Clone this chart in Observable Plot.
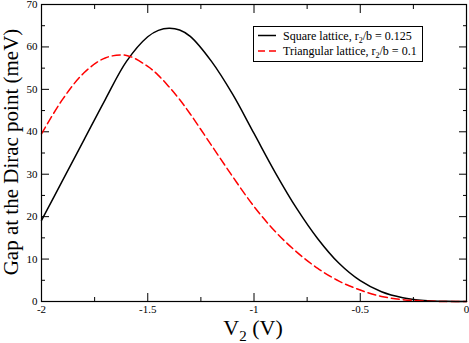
<!DOCTYPE html>
<html><head><meta charset="utf-8">
<script src="https://cdn.jsdelivr.net/npm/d3@7"></script>
<script src="https://cdn.jsdelivr.net/npm/@observablehq/plot@0.6"></script>
<style>
body{margin:0;background:#fff}
#chart{position:relative;width:469px;height:343px}
svg{display:block}
</style>
</head><body><div id="chart"></div>
<script>
// ---- data ----
const voltage = [-2.0,-1.9,-1.8,-1.7,-1.6,-1.5,-1.45,-1.4,-1.35,-1.3,-1.2,-1.1,-1.0,-0.9,-0.8,-0.7,-0.6,-0.5,-0.4,-0.3,-0.2,-0.1,0.0];
const squareGap = [19.1,28.6,38.1,47.6,56.6,62.4,63.9,64.4,64.0,62.5,56.6,48.8,39.6,30.4,22.0,14.8,9.0,4.9,2.3,0.9,0.25,0.03,0.0];
const triangularGap = [39.5,47.7,53.9,57.4,58.0,55.4,53.3,50.6,47.6,44.2,36.8,29.4,22.4,16.5,11.7,7.8,4.8,2.7,1.2,0.45,0.1,0.01,0.0];

const seriesNames = ["Square lattice", "Triangular lattice"];
const seriesRatios = ["0.125", "0.1"];
const seriesColors = ["#000000", "#ff0000"];

const xMajorTicks = [-2, -1.5, -1, -0.5, 0];
const xMinorTicks = [-1.75, -1.25, -0.75, -0.25];
const yMajorTicks = [0, 10, 20, 30, 40, 50, 60, 70];
const yMinorTicks = [5, 15, 25, 35, 45, 55, 65];

const xTitle = ["V", "2", " (V)"];
const yTitle = "Gap at the Dirac point (meV)";

// ---- build table ----
const squareRows = voltage.map((v, i) => ({v, gap: squareGap[i]}));
const triRows = voltage.map((v, i) => ({v, gap: triangularGap[i]}));

const FONT = "Liberation Serif, Times New Roman, serif";
const fmt = d => String(d);
const blank = () => "";

const plot = Plot.plot({
  width: 469,
  height: 343,
  marginLeft: 41,
  marginRight: 3,
  marginTop: 4,
  marginBottom: 42,
  style: {fontFamily: FONT, fontSize: "11px", color: "#000", background: "#fff"},
  x: {domain: [-2, 0]},
  y: {domain: [0, 70]},
  marks: [
    // tick labels
    Plot.axisX({ticks: xMajorTicks, tickSize: 0, tickPadding: 4, tickFormat: fmt, label: null, fontSize: 11}),
    Plot.axisY({ticks: yMajorTicks, tickSize: 0, tickPadding: 4, tickFormat: fmt, label: null, fontSize: 11}),
    // inward ticks on all four sides
    Plot.axisX({ticks: xMajorTicks, tickSize: -8, tickFormat: blank, label: null}),
    Plot.axisX({ticks: xMinorTicks, tickSize: -4, tickFormat: blank, label: null}),
    Plot.axisX({anchor: "top", ticks: xMajorTicks, tickSize: -8, tickFormat: blank, label: null}),
    Plot.axisX({anchor: "top", ticks: xMinorTicks, tickSize: -4, tickFormat: blank, label: null}),
    Plot.axisY({ticks: yMajorTicks, tickSize: -8, tickFormat: blank, label: null}),
    Plot.axisY({ticks: yMinorTicks, tickSize: -4, tickFormat: blank, label: null}),
    Plot.axisY({anchor: "right", ticks: yMajorTicks, tickSize: -8, tickFormat: blank, label: null}),
    Plot.axisY({anchor: "right", ticks: yMinorTicks, tickSize: -4, tickFormat: blank, label: null}),
    Plot.line(squareRows, {x: "v", y: "gap", stroke: seriesColors[0], strokeWidth: 1.5, curve: "catmull-rom"}),
    Plot.line(triRows, {x: "v", y: "gap", stroke: seriesColors[1], strokeWidth: 1.5, strokeDasharray: "8,4", curve: "catmull-rom"}),
    Plot.frame({stroke: "#000", strokeWidth: 1.2})
  ]
});

document.getElementById("chart").appendChild(plot);

// ---- axis titles and legend (text with subscripts) ----
const svg = d3.select(plot);

const xt = svg.append("text")
  .attr("x", 253).attr("y", 335)
  .attr("text-anchor", "middle")
  .style("font-family", FONT).style("font-size", "22px").attr("fill", "#000");
xt.append("tspan").text(xTitle[0]);
xt.append("tspan").attr("dy", 6).style("font-size", "15px").text(xTitle[1]);
xt.append("tspan").attr("dy", -6).text(xTitle[2]);

svg.append("text")
  .attr("transform", "translate(18,152) rotate(-90)")
  .attr("text-anchor", "middle")
  .style("font-family", FONT).style("font-size", "21px").attr("fill", "#000")
  .text(yTitle);

const lg = svg.append("g");
lg.append("rect").attr("x", 253.5).attr("y", 26.5).attr("width", 169).attr("height", 35)
  .attr("fill", "#fff").attr("stroke", "#000").attr("stroke-width", 1);
seriesNames.forEach((name, i) => {
  const cy = 35.5 + i * 15.5;
  lg.append("line").attr("x1", 258).attr("x2", 276).attr("y1", cy).attr("y2", cy)
    .attr("stroke", seriesColors[i]).attr("stroke-width", 1.5)
    .attr("stroke-dasharray", i === 1 ? "7,4" : null);
  const t = lg.append("text").attr("x", 283).attr("y", cy + 4)
    .attr("text-anchor", "start")
    .style("font-family", FONT).style("font-size", "12px").attr("fill", "#000");
  t.append("tspan").text(name + ", r");
  t.append("tspan").attr("dy", 3).style("font-size", "8px").text("2");
  t.append("tspan").attr("dy", -3).text("/b = " + seriesRatios[i]);
});
</script>
</body></html>
